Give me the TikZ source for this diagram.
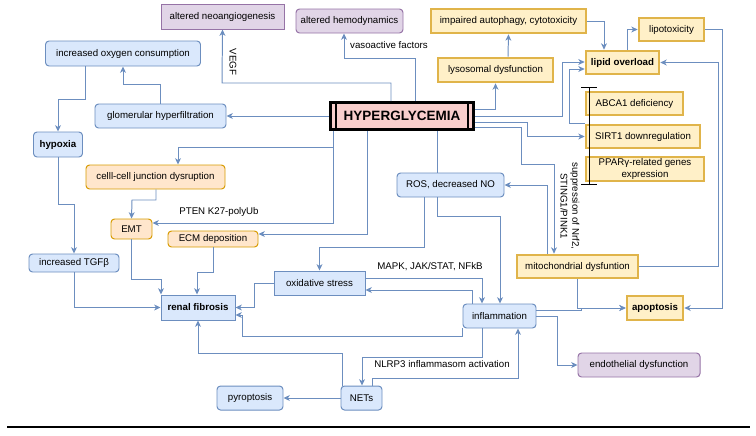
\documentclass[tikz,border=0pt]{standalone}
\usepackage{fontspec}
\setmainfont{Liberation Sans}
\usetikzlibrary{arrows.meta}
\definecolor{bluefill}{HTML}{DAE8FC}
\definecolor{blueline}{HTML}{6C8EBF}
\definecolor{orangefill}{HTML}{FFE6CC}
\definecolor{orangeline}{HTML}{D79B00}
\definecolor{purplefill}{HTML}{E1D5E7}
\definecolor{purpleline}{HTML}{9673A6}
\definecolor{yellowfill}{HTML}{FFF0C8}
\definecolor{yellowline}{HTML}{E0B44A}
\definecolor{pinkfill}{HTML}{F8CECC}
\newcommand{\pxl}{0.025cm}

\begin{document}
\begin{tikzpicture}[x=\pxl,y=-\pxl,
		every node/.style={font=\fontsize{6.9}{8.3}\selectfont, inner sep=0pt},
		wh/.style 2 args={minimum width=#1*\pxl, minimum height=#2*\pxl},
		bluebox/.style={draw=blueline, fill=bluefill, line width=0.7pt, rounded corners=2.5pt},
		bluesq/.style={draw=blueline, fill=bluefill, line width=0.7pt},
		orangebox/.style={draw=orangeline, fill=orangefill, line width=0.7pt, rounded corners=2.5pt},
		purplebox/.style={draw=purpleline, fill=purplefill, line width=0.7pt, rounded corners=2.5pt},
		purplesq/.style={draw=purpleline, fill=purplefill, line width=0.7pt},
		yellowbox/.style={draw=yellowline, fill=yellowfill, line width=1.9pt},
		hyperbox/.style={draw=black, fill=pinkfill, line width=1.8pt, font=\fontsize{9.6}{11}\selectfont\bfseries},
		conn/.style={draw=blueline, line width=0.7pt},
		arr/.style={conn, -{Stealth[length=4.5pt,width=4.2pt,inset=1.3pt]}}]
		\useasboundingbox (0,0) rectangle (756,435);

		% boxes
		\node[purplesq, wh={123}{25}] (neo) at (222.5,16.5) {altered neoangiogenesis};
		\node[purplebox, wh={107}{24}] (hemo) at (349.5,21) {altered hemodynamics};
		\node[bluebox, wh={155}{25}] (oxy) at (123,53.5) {increased oxygen consumption};
		\node[bluebox, wh={131}{24}] (glom) at (160.5,116) {glomerular hyperfiltration};
		\node[bluebox, wh={49}{25}] (hypox) at (58,144.5) {\textbf{hypoxia}};
		\node[orangebox, wh={139}{24}] (junc) at (155.5,177) {celll-cell junction dysruption};
		\node[hyperbox, wh={143}{27}] (hyper) at (402,116) {HYPERGLYCEMIA};
		\draw[line width=1.4pt] (336,0 |- hyper.north) -- (336,0 |- hyper.south);
		\draw[line width=1.4pt] (468,0 |- hyper.north) -- (468,0 |- hyper.south);

		\node[yellowbox, wh={155}{24}] (autoph) at (508.5,21) {impaired autophagy, cytotoxicity};
		\node[yellowbox, wh={115}{24}] (lyso) at (495.5,70) {lysosomal dysfunction};
		\node[yellowbox, wh={73}{23}] (lipid) at (622.5,62.5) {\textbf{lipid overload}};
		\node[yellowbox, wh={65}{23}] (lipotox) at (671.5,29.5) {lipotoxicity};
		\node[yellowbox, wh={97}{23}] (abca) at (634.5,103.5) {ABCA1 deficiency};
		\node[yellowbox, wh={114}{23}] (sirt) at (643,136.5) {SIRT1 downregulation};
		\node[yellowbox, wh={118}{24}, align=center] (ppar) at (645,169) {PPARγ-related genes\\expression};
		\node[bluebox, wh={107}{24}] (ros) at (450.5,185) {ROS, decreased NO};
		\node[yellowbox, wh={121}{23}] (mito) at (577.5,266.5) {mitochondrial dysfuntion};
		\node[yellowbox, wh={56}{24}] (apop) at (655,308) {\textbf{apoptosis}};
		\node[bluebox, wh={73}{24}] (infl) at (499.5,316) {inflammation};
		\node[purplebox, wh={122}{24}] (endo) at (639,365) {endothelial dysfunction};
		\node[orangebox, wh={41}{20}] (emt) at (131.5,229) {EMT};
		\node[orangebox, wh={90}{16}] (ecm) at (213,239) {ECM deposition};
		\node[bluebox, wh={90}{18}] (tgf) at (74,263) {increased TGFβ};
		\node[bluesq, wh={91}{24}] (oxs) at (319.5,283) {oxidative stress};
		\node[bluesq, wh={74}{25}] (renal) at (198,307.5) {\textbf{renal fibrosis}};
		\node[bluebox, wh={66}{24}] (pyro) at (250,398) {pyroptosis};
		\node[bluebox, wh={41}{24}] (nets) at (361.5,398) {NETs};

		% labels
		\node[rotate=-90] (lvegf) at (233,62) {VEGF};
		\node (lvaso) at (389,45) {vasoactive factors};
		\node (lpten) at (219,212) {PTEN K27-polyUb};
		\node (lmapk) at (430,267) {MAPK, JAK/STAT, NFkB};
		\node (lnlrp) at (442,364) {NLRP3 inflammasom activation};
		\node[rotate=-90, align=center] (lsupp) at (570,206) {suppression of Nrf2,\\STING1/PINK1};

		% from hyperglycemia
		\draw[arr] (391,0 |- hyper.north) |- (222,83) -- (neo.south);
		\draw[arr] (415,0 |- hyper.north) |- (344,58) -- (344,0 |- hemo.south);
		\draw[arr] (hyper.west) -- (glom.east);
		\draw[arr] (333,0 |- hyper.south) |- (178,147) -- (178,0 |- junc.north);
		\draw[arr] (333,0 |- hyper.south) |- (0,223 -| emt.east);
		\draw[arr] (367,0 |- hyper.south) |- (0,234 -| ecm.east);
		\draw[conn] (437,0 |- hyper.south) -- (437,0 |- ros.north);
		\draw[arr] (0,109 -| hyper.east) -| (lyso.south);
		\draw[arr] (hyper.east) -| (562,62) -- (0,62 -| lipid.west);
		\draw[arr] (0,122 -| hyper.east) -| (527,136.5) -- (sirt.west);
		\draw[arr] (0,127 -| hyper.east) -| (521,164) -| (554,0 |- mito.north);

		% left side
		\draw[arr] (glom.north) |- (123,84) -- (oxy.south);
		\draw[arr] (85,0 |- oxy.south) |- (58,99) -- (hypox.north);
		\draw[arr] (hypox.south) |- (74,204) -- (tgf.north);
		\draw[arr] (tgf.south) |- (renal.west);
		\draw[arr] (156,0 |- junc.south) |- (132,200) -- (emt.north);
		\draw[arr] (emt.south) |- (161,279) -- (161,0 |- renal.north);
		\draw[arr] (ecm.south) |- (197,272) -- (197,0 |- renal.north);

		% middle
		\draw[arr] (424,0 |- ros.south) |- (319.5,247) -- (oxs.north);
		\draw[arr] (437,0 |- ros.south) |- (500,216) -- (500,0 |- infl.north);
		\draw[arr] (0,278 -| oxs.east) -| (482,0 |- infl.north);
		\draw[arr] (472,0 |- infl.north) |- (0,290 -| oxs.east);
		\draw[arr] (oxs.west) -| (254,307.5) -- (renal.east);
		\draw[arr] (infl.south west) |- (242,336) |- (0,315 -| renal.east);
		\draw[arr] (342,0 |- nets.north) |- (198,353) -- (renal.south);
		\draw[arr] (482,0 |- infl.south) |- (362,357) -- (362,0 |- nets.north);
		\draw[arr] (372,0 |- nets.north) |- (518,378) -- (518,0 |- infl.south);
		\draw[arr] (nets.west) -- (pyro.east);

		% right side
		\draw[arr] (0,310 -| infl.east) -- (581,310) |- (apop.west);
		\draw[arr] (mito.south) |- (apop.west);
		\draw[arr] (infl.east) -| (557,365) -- (endo.west);
		\draw[arr] (mito.east) -| (718,62.5) -- (lipid.east);
		\draw[arr] (lipotox.east) -| (722,308) -- (apop.east);
		\draw[arr] (627,0 |- lipid.north) |- (lipotox.west);
		\draw[arr] (autoph.east) -| (604,0 |- lipid.north);
		\draw[arr] (508,0 |- lyso.north) -- (autoph.south);
		\draw[arr] (sirt.north west) -| (569,69) -- (0,69 -| lipid.west);
		\draw[arr] (547,0 |- mito.north) |- (ros.east);

		% inhibition bar and rule
		\draw[line width=0.7pt, {Bar[width=11pt]}-{Bar[width=11pt]}] (589,87) -- (589,185);
		\draw[line width=1.4pt] (7,427) -- (750,427);
	\end{tikzpicture}
\end{document}
